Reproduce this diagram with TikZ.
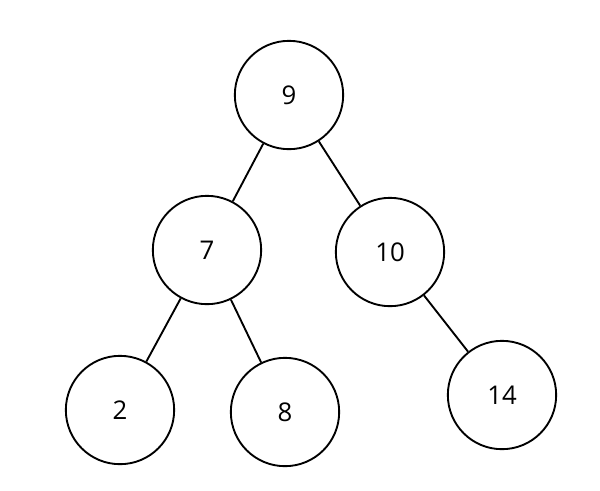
\documentclass[tikz,border=0pt]{standalone}
\usepackage{fontspec}
\setmainfont{Open Sans}
\begin{document}
\begin{tikzpicture}[x=0.03cm,y=-0.03cm,
    vtx/.style={draw,circle,line width=1.6pt,minimum size=3.25cm,inner sep=0pt,font=\fontsize{22}{26}\selectfont}]
      \useasboundingbox (0,0) rectangle (600,490);

      \node (n9) at (289,95) [vtx] {9};
      \node (n7) at (207,250) [vtx] {7};
      \node (n10) at (390,252) [vtx] {10};
      \node (n2) at (120,410) [vtx] {2};
      \node (n8) at (285,412) [vtx] {8};
      \node (n14) at (502,395) [vtx] {14};

    \draw[line width=1.6pt]
    (n9) -- (n7)
    (n9) -- (n10)
    (n7) -- (n2)
    (n7) -- (n8)
    (n10) -- (n14);
\end{tikzpicture}
\end{document}
